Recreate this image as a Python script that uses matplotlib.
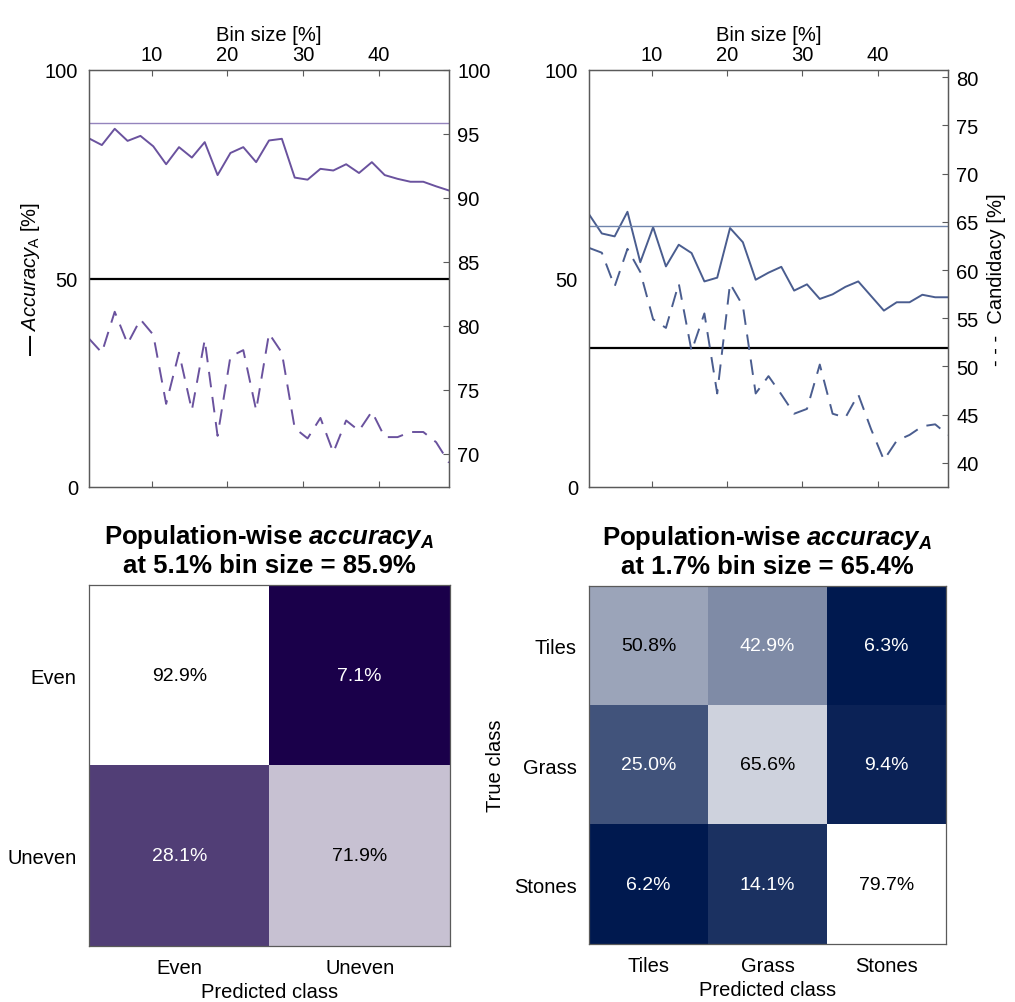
import numpy as np
import matplotlib
matplotlib.use("Agg")
from matplotlib import pyplot as plt
from matplotlib.colors import LinearSegmentedColormap

plt.rcParams['font.family'] = ['Liberation Sans', 'DejaVu Sans']
plt.rcParams['mathtext.fontset'] = 'custom'
plt.rcParams['mathtext.rm'] = 'Liberation Sans'
plt.rcParams['mathtext.it'] = 'Liberation Sans:italic'
plt.rcParams['mathtext.bf'] = 'Liberation Sans:bold'
plt.rcParams['mathtext.bfit'] = 'Liberation Sans:bold:italic'

# bin sizes [%]
bin_size = [1.7, 3.4, 5.1, 6.8, 8.5, 10.2, 11.9, 13.6, 15.3, 17.0, 18.7, 20.4, 22.1, 23.8,
            25.5, 27.2, 28.9, 30.6, 32.3, 34.0, 35.7, 37.4, 39.1, 40.8, 42.5, 44.2, 45.9,
            47.6, 49.3]

# evenness task (left)
acc_even = [83.6, 82.0, 85.9, 83.0, 84.2, 81.7, 77.4, 81.5, 79.0, 82.7, 74.8, 80.1, 81.5, 77.9,
            83.1, 83.5, 74.2, 73.7, 76.3, 75.9, 77.4, 75.3, 77.9, 74.8, 73.9, 73.2, 73.2, 72.1, 71.1]
cand_even = [79.0, 77.9, 81.1, 78.6, 80.5, 79.3, 73.9, 77.9, 73.4, 78.9, 71.4, 77.6, 78.1, 73.4,
             79.4, 77.9, 72.0, 71.2, 72.8, 70.1, 72.6, 71.8, 73.3, 71.3, 71.3, 71.7, 71.7, 70.9, 69.3]
ref_even = 87.4
chance_even = 50

# surface task (right)
acc_surf = [65.4, 60.8, 60.1, 66.0, 53.9, 62.3, 52.9, 58.1, 56.1, 49.3, 50.2, 62.1, 58.7, 49.7,
            51.4, 52.8, 47.1, 48.6, 45.1, 46.2, 48.0, 49.3, 45.8, 42.3, 44.3, 44.3, 46.1, 45.5, 45.5]
cand_surf = [62.3, 61.8, 58.3, 62.2, 59.8, 54.9, 54.0, 58.6, 51.6, 55.5, 47.2, 58.6, 56.3, 47.2,
             49.0, 47.1, 45.1, 45.6, 50.2, 45.1, 44.7, 47.1, 43.5, 40.3, 42.3, 42.9, 43.8, 44.0, 42.9]
ref_surf = 62.5
chance_surf = 100 / 3

# confusion matrices
even_classes = ["Even", "Uneven"]
cm_even = [[92.9, 7.1],
           [28.1, 71.9]]
surf_classes = ["Tiles", "Grass", "Stones"]
cm_surf = [[50.8, 42.9, 6.3],
           [25.0, 65.6, 9.4],
           [6.2, 14.1, 79.7]]

SPINE = '#5a5a5a'
FS = 14.5
CELL_FS = 14


def px(x0, y0, x1, y1, W=1015, H=1003):
    return [x0 / W, 1 - y1 / H, (x1 - x0) / W, (y1 - y0) / H]


def style_spines(ax):
    for s in ax.spines.values():
        s.set_color(SPINE)
        s.set_linewidth(0.9)


def line_panel(ax, acc, cand, ref, chance, color, refcolor, rlim, rticks):
    ax.plot(bin_size, acc, color=color, lw=1.4)
    ax.axhline(ref, color=refcolor, lw=1.0)
    ax.axhline(chance, color='black', lw=1.6)
    ax.set_xlim(bin_size[0], bin_size[-1])
    ax.set_ylim(0, 100)
    ax.set_yticks([0, 50, 100])
    ax.set_xticks([10, 20, 30, 40])
    ax.xaxis.tick_top()
    ax.xaxis.set_label_position('top')
    ax.tick_params(axis='x', top=True, bottom=True, labeltop=True, labelbottom=False,
                   direction='in', length=4, labelsize=FS, color=SPINE, pad=4)
    ax.tick_params(axis='y', length=0, labelsize=FS, pad=8)
    ax.set_xlabel("Bin size [%]", fontsize=FS, labelpad=4)
    ax2 = ax.twinx()
    ax2.plot(bin_size, cand, color=color, lw=1.4, linestyle=(0, (8, 5)))
    ax2.set_ylim(*rlim)
    ax2.set_yticks(rticks)
    ax2.tick_params(axis='y', direction='in', length=4, labelsize=FS, color=SPINE, pad=6)
    style_spines(ax)
    style_spines(ax2)
    return ax2


def cm_panel(ax, cm, classes, dark, title, ylabel=None):
    cm = np.array(cm)
    cmap = LinearSegmentedColormap.from_list("cm", [dark, "white"])
    ax.imshow(cm, cmap=cmap, vmin=cm.min(), vmax=cm.max(), aspect='auto')
    for i in range(cm.shape[0]):
        for j in range(cm.shape[1]):
            frac = (cm[i, j] - cm.min()) / (cm.max() - cm.min())
            ax.text(j, i, f"{cm[i, j]:.1f}%", ha='center', va='center', fontsize=CELL_FS,
                    color='black' if frac > 0.55 else 'white')
    n = len(classes)
    ax.set_xticks(range(n))
    ax.set_yticks(range(n))
    ax.set_xticklabels(classes, fontsize=FS)
    ax.set_yticklabels(classes, fontsize=FS)
    ax.tick_params(length=0, pad=9)
    ax.set_xlabel("Predicted class", fontsize=FS, labelpad=3)
    if ylabel:
        ax.set_ylabel(ylabel, fontsize=FS, labelpad=6)
    ax.set_title(title, fontsize=18.5, fontweight='bold', pad=9, linespacing=1.2)
    style_spines(ax)


fig = plt.figure(figsize=(10.15, 10.03), dpi=100)

ax_l = fig.add_axes(px(89, 71, 449, 488))
ax_l2 = line_panel(ax_l, acc_even, cand_even, ref_even, chance_even,
                   '#6a529e', '#9484bd', (67.4, 100), [70, 75, 80, 85, 90, 95, 100])
ax_l.set_ylabel(r"$\mathbf{—}$ $\mathit{Accuracy}_\mathrm{A}$ [%]", fontsize=FS, labelpad=2)

ax_r = fig.add_axes(px(589, 71, 948, 488))
ax_r2 = line_panel(ax_r, acc_surf, cand_surf, ref_surf, chance_surf,
                   '#4a5d8f', '#6f84ab', (37.5, 80.75), [40, 45, 50, 55, 60, 65, 70, 75, 80])
ax_r2.set_ylabel("- - -  Candidacy [%]", fontsize=FS, labelpad=6)

ax_cl = fig.add_axes(px(89, 586, 450, 947))
cm_panel(ax_cl, cm_even, even_classes, '#1a004a',
         "Population-wise $\\mathbfit{accuracy}_\\mathbfit{A}$\nat 5.1% bin size = 85.9%")

ax_cr = fig.add_axes(px(589, 587, 946, 945))
cm_panel(ax_cr, cm_surf, surf_classes, '#00194f',
         "Population-wise $\\mathbfit{accuracy}_\\mathbfit{A}$\nat 1.7% bin size = 65.4%",
         ylabel="True class")

fig.savefig("out.png", dpi=100)
